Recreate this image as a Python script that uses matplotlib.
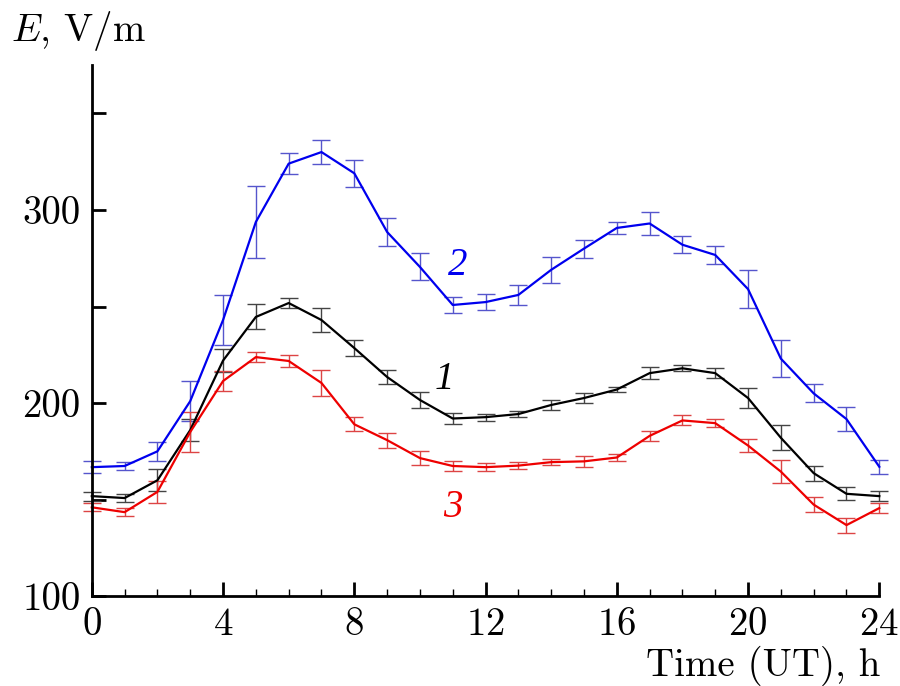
import matplotlib
matplotlib.use('Agg')
import matplotlib.pyplot as plt
from matplotlib.ticker import MultipleLocator

plt.rcParams['font.family'] = 'cmr10'
plt.rcParams['mathtext.fontset'] = 'cm'
plt.rcParams['axes.formatter.use_mathtext'] = True

hours = list(range(25))

# curve 1 (black)
e1 = [151.8, 150.8, 160, 186, 222, 244.6, 251.8, 243, 228.5, 213.5, 201.6, 192,
      192.7, 194.3, 199, 202.6, 207, 215.5, 218, 215.5, 202.6, 182, 163.7, 153, 151.8]
err1 = [2.3, 2, 5.8, 5.8, 6, 6.5, 2.7, 6, 4, 3.7, 4.2, 2.6,
        1.8, 1.7, 2.7, 2.7, 1.5, 3, 1.5, 2.7, 5.4, 6.5, 3.9, 3.3, 2.5]

# curve 2 (blue)
e2 = [166.8, 167.4, 175, 201, 243, 293.8, 324, 330, 319, 288.6, 270.5, 250.8,
      252.3, 256, 269, 280, 290.7, 293, 282, 276.7, 259, 223, 205, 191.7, 167]
err2 = [3, 2, 5, 10.5, 13, 18.6, 5.5, 6, 7, 7, 7, 4,
        4, 5, 6.7, 4.7, 3, 6, 4.4, 4.7, 10, 9.6, 4.7, 6, 3.5]

# curve 3 (red)
e3 = [146, 143.5, 154, 185, 211.4, 223.8, 221.8, 210.4, 189, 180.8, 171.5, 167.4,
      166.8, 167.6, 169.4, 169.8, 171.8, 183, 191, 189.6, 178, 164.5, 147.4, 136.8, 145.6]
err3 = [2, 2, 5.7, 10.6, 5, 2.6, 3.2, 6.5, 3.7, 3.9, 3.7, 2.6,
        2, 2, 1.7, 2.7, 1.9, 2.4, 2.6, 2, 3.5, 6, 3.9, 3.9, 2.5]

fig = plt.figure(figsize=(9, 6.86), dpi=100)
ax = fig.add_axes([0.102, 0.131, 0.875, 0.774])

series = [(e2, err2, '#0000ee', '#5555cc'),
          (e1, err1, '#000000', '#444444'),
          (e3, err3, '#ee0000', '#dd4444')]
for vals, errs, c, ec in series:
    ax.errorbar(hours, vals, yerr=errs, color=c, ecolor=ec, lw=1.6,
                elinewidth=1.0, capsize=6.5, capthick=1.0, clip_on=False)

ax.text(11.15, 271, '2', color='#0000ee', fontsize=28, fontstyle='italic',
        family='Liberation Serif', ha='center', va='center')
ax.text(10.75, 212, '1', color='black', fontsize=28, fontstyle='italic',
        family='Liberation Serif', ha='center', va='center')
ax.text(11.0, 146, '3', color='#ee0000', fontsize=28, fontstyle='italic',
        family='Liberation Serif', ha='center', va='center')

ax.set_xlim(0, 24)
ax.set_ylim(100, 375)
ax.xaxis.set_major_locator(MultipleLocator(4))
ax.xaxis.set_minor_locator(MultipleLocator(1))
ax.set_yticks([100, 150, 200, 250, 300, 350])
ax.set_yticklabels(['100', '', '200', '', '300', ''])

for s in ['top', 'right']:
    ax.spines[s].set_visible(False)
for s in ['left', 'bottom']:
    ax.spines[s].set_linewidth(2)

ax.tick_params(which='major', direction='in', length=10, width=2,
               labelsize=28, pad=8)
ax.tick_params(which='minor', direction='in', length=5, width=1)

fig.text(0.012, 0.955, r'$E$, V/m', fontsize=28, ha='left', va='center')
fig.text(0.978, 0.03, 'Time (UT), h', fontsize=28, ha='right', va='center')

fig.savefig('out.png', dpi=100)
